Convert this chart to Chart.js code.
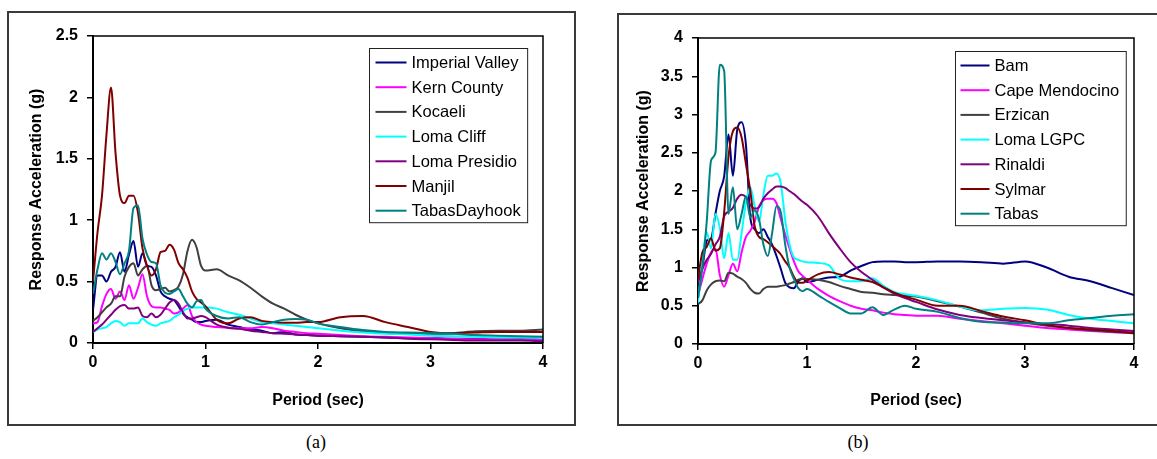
<!DOCTYPE html>
<html lang="en">
<head>
<meta charset="UTF-8">
<title>Response Spectra</title>
<script src="https://cdn.jsdelivr.net/npm/chart.js"></script>
<style>
  body {
    margin: 0;
    width: 1157px;
    height: 459px;
    position: relative;
    overflow: hidden;
    background: #fff;
  }
  .panel {
    position: absolute;
    border: 2px solid #3a3a3a;
    box-sizing: border-box;
  }
  #panelA { left: 7px; top: 11px; width: 569px; height: 415px; }
  #panelB { left: 617px; top: 13px; width: 560px; height: 413px; }
  .panel canvas { position: absolute; left: 0; top: 0; }
  .caption {
    position: absolute;
    top: 431px;
    line-height: 22px;
    font-family: "Liberation Serif", "Times New Roman", serif;
    font-size: 18px;
    transform: translateX(-50%);
  }
</style>
</head>
<body>
  <div class="panel" id="panelA"><canvas id="chartA" width="565" height="411"></canvas></div>
  <div class="panel" id="panelB"><canvas id="chartB" width="538" height="409"></canvas></div>
  <div class="caption" style="left:316px">(a)</div>
  <div class="caption" style="left:858px">(b)</div>

<script>
// periods (sec) shared by every spectrum
const periods = [0, 0.04, 0.08, 0.12, 0.16, 0.2, 0.24, 0.28, 0.32, 0.36, 0.4, 0.44, 0.48, 0.52, 0.56,
  0.6, 0.64, 0.68, 0.72, 0.76, 0.8, 0.84, 0.88, 0.92, 0.96, 1.0,
  1.1, 1.2, 1.3, 1.4, 1.5, 1.6, 1.7, 1.8, 1.9, 2.0,
  2.2, 2.4, 2.6, 2.8, 3.0, 3.2, 3.4, 3.6, 3.8, 4.0];

// (a) spectral acceleration, g
const imperialValley = [0.27, 0.55, 0.55, 0.5, 0.58, 0.62, 0.74, 0.58, 0.72, 0.83, 0.62, 0.73, 0.63, 0.62, 0.55,
  0.42, 0.38, 0.36, 0.35, 0.3, 0.24, 0.21, 0.19, 0.17, 0.17, 0.18,
  0.19, 0.15, 0.13, 0.11, 0.1, 0.08, 0.09, 0.07, 0.065, 0.06,
  0.055, 0.05, 0.045, 0.04, 0.04, 0.035, 0.035, 0.03, 0.03, 0.03];
const kernCounty = [0.16, 0.17, 0.3, 0.4, 0.44, 0.36, 0.42, 0.35, 0.47, 0.36, 0.45, 0.56, 0.38, 0.3, 0.29,
  0.29, 0.28, 0.27, 0.24, 0.25, 0.28, 0.31, 0.22, 0.17, 0.15, 0.14,
  0.13, 0.125, 0.12, 0.12, 0.13, 0.12, 0.1, 0.09, 0.08, 0.075,
  0.065, 0.055, 0.05, 0.045, 0.04, 0.035, 0.03, 0.03, 0.025, 0.025];
const kocaeli = [0.18, 0.21, 0.25, 0.29, 0.32, 0.38, 0.38, 0.54, 0.62, 0.65, 0.55, 0.6, 0.63, 0.47, 0.43,
  0.44, 0.45, 0.42, 0.43, 0.46, 0.56, 0.75, 0.84, 0.78, 0.63, 0.59,
  0.6, 0.55, 0.51, 0.45, 0.38, 0.32, 0.28, 0.23, 0.19, 0.16,
  0.12, 0.095, 0.085, 0.08, 0.075, 0.08, 0.095, 0.1, 0.1, 0.11];
const lomaCliff = [0.09, 0.11, 0.12, 0.13, 0.16, 0.18, 0.17, 0.14, 0.16, 0.16, 0.16, 0.2, 0.17, 0.15, 0.14,
  0.16, 0.17, 0.18, 0.21, 0.23, 0.26, 0.28, 0.29, 0.29, 0.29, 0.29,
  0.28, 0.25, 0.23, 0.2, 0.17, 0.16, 0.15, 0.14, 0.13, 0.12,
  0.1, 0.085, 0.075, 0.07, 0.06, 0.055, 0.05, 0.045, 0.045, 0.04];
const lomaPresidio = [0.09, 0.12, 0.15, 0.19, 0.23, 0.27, 0.3, 0.31, 0.28, 0.28, 0.29, 0.22, 0.21, 0.24, 0.21,
  0.23, 0.28, 0.33, 0.35, 0.32, 0.25, 0.2, 0.2, 0.21, 0.22, 0.21,
  0.15, 0.125, 0.115, 0.1, 0.09, 0.08, 0.075, 0.07, 0.065, 0.06,
  0.055, 0.05, 0.045, 0.035, 0.03, 0.025, 0.02, 0.02, 0.02, 0.015];
const manjil = [0.5, 0.9, 1.2, 1.7, 2.08, 1.55, 1.2, 1.14, 1.2, 1.2, 1.06, 0.77, 0.63, 0.55, 0.6,
  0.74, 0.75, 0.8, 0.76, 0.65, 0.6, 0.53, 0.42, 0.36, 0.33, 0.3,
  0.19, 0.16, 0.2, 0.21, 0.18, 0.17, 0.165, 0.165, 0.17, 0.17,
  0.21, 0.22, 0.17, 0.13, 0.09, 0.08, 0.085, 0.09, 0.09, 0.09];
const tabasDayhook = [0.4, 0.6, 0.73, 0.68, 0.73, 0.66, 0.56, 0.65, 0.75, 1.1, 1.12, 0.85, 0.72, 0.66, 0.65,
  0.47, 0.41, 0.4, 0.42, 0.44, 0.38, 0.32, 0.29, 0.34, 0.35, 0.28,
  0.22, 0.2, 0.21, 0.17, 0.15, 0.17, 0.19, 0.195, 0.19, 0.16,
  0.13, 0.105, 0.09, 0.085, 0.08, 0.075, 0.065, 0.06, 0.055, 0.05];

// (b) spectral acceleration, g
const bam = [0.82, 1.0, 1.35, 1.38, 1.7, 2.0, 2.19, 2.74, 2.2, 2.8, 2.9, 2.6, 1.65, 1.5, 1.45,
  1.5, 1.4, 1.3, 1.15, 0.98, 0.8, 0.74, 0.73, 0.82, 0.86, 0.81,
  0.84, 0.87, 0.88, 0.96, 1.02, 1.07, 1.08, 1.08, 1.07, 1.07,
  1.08, 1.08, 1.07, 1.05, 1.08, 1.0, 0.88, 0.82, 0.73, 0.64];
const capeMendocino = [0.63, 0.85, 1.05, 1.2, 1.25, 0.9, 0.75, 0.9, 1.05, 0.95, 1.2, 1.4, 1.48, 1.6, 1.8,
  1.88, 1.9, 1.9, 1.84, 1.63, 1.43, 1.25, 1.08, 0.95, 0.89, 0.84,
  0.72, 0.63, 0.56, 0.5, 0.46, 0.44, 0.41, 0.39, 0.38, 0.37,
  0.37, 0.33, 0.3, 0.27, 0.24, 0.21, 0.19, 0.17, 0.155, 0.14];
const erzican = [0.52, 0.57, 0.7, 0.78, 0.82, 0.83, 0.82, 0.93, 0.92, 0.88, 0.85, 0.8, 0.72, 0.67, 0.66,
  0.72, 0.75, 0.75, 0.75, 0.76, 0.77, 0.79, 0.81, 0.84, 0.85, 0.85,
  0.84, 0.81, 0.76, 0.72, 0.68, 0.67, 0.65, 0.64, 0.63, 0.62,
  0.56, 0.49, 0.41, 0.33, 0.28, 0.24, 0.21, 0.18, 0.16, 0.15];
const lomaLGPC = [0.54, 1.1, 1.46, 1.25, 1.7, 1.52, 1.12, 1.45, 1.1, 1.1, 1.45, 1.85, 2.05, 1.8, 1.6,
  1.95, 2.2, 2.2, 2.23, 2.1, 1.62, 1.3, 1.13, 1.1, 1.08, 1.07,
  1.06, 1.03, 0.85, 0.82, 0.82, 0.86, 0.76, 0.68, 0.65, 0.63,
  0.57, 0.49, 0.44, 0.46, 0.47, 0.45, 0.38, 0.33, 0.3, 0.27];
const rinaldi = [0.8, 0.98, 1.1, 1.18, 1.3, 1.4, 1.67, 1.73, 1.78, 1.9, 1.95, 1.92, 1.82, 1.77, 1.79,
  1.9, 1.97, 2.02, 2.06, 2.06, 2.04, 2.0, 1.96, 1.91, 1.86, 1.82,
  1.67, 1.45, 1.25, 1.07, 0.94, 0.84, 0.74, 0.66, 0.6, 0.55,
  0.45, 0.38, 0.34, 0.31, 0.28, 0.26, 0.24, 0.21, 0.19, 0.17];
const sylmar = [0.85, 1.2, 1.27, 1.38, 1.22, 1.25, 1.72, 2.45, 2.78, 2.83, 2.7, 2.35, 2.0, 1.54, 1.4,
  1.37, 1.33, 1.28, 1.23, 1.17, 1.08, 1.0, 0.88, 0.8, 0.8, 0.83,
  0.91, 0.94, 0.91, 0.87, 0.84, 0.81, 0.74, 0.67, 0.62, 0.58,
  0.5, 0.5, 0.43, 0.36, 0.31, 0.25, 0.21, 0.19, 0.17, 0.14];
const tabas = [0.6, 1.0, 1.6, 2.4, 2.5, 3.65, 3.57, 1.7, 2.05, 1.5, 1.7, 1.93, 1.65, 1.75, 1.63,
  1.3, 1.15, 1.45, 1.8, 1.72, 1.3, 1.0, 0.85, 0.73, 0.69, 0.72,
  0.64, 0.55, 0.47, 0.4, 0.4, 0.48, 0.38, 0.45, 0.5, 0.46,
  0.42, 0.34, 0.29, 0.28, 0.27, 0.27, 0.31, 0.34, 0.37, 0.39];

const namesA = ['Imperial Valley', 'Kern County', 'Kocaeli', 'Loma Cliff', 'Loma Presidio', 'Manjil', 'TabasDayhook'];
const seriesA = [imperialValley, kernCounty, kocaeli, lomaCliff, lomaPresidio, manjil, tabasDayhook];
const namesB = ['Bam', 'Cape Mendocino', 'Erzican', 'Loma LGPC', 'Rinaldi', 'Sylmar', 'Tabas'];
const seriesB = [bam, capeMendocino, erzican, lomaLGPC, rinaldi, sylmar, tabas];

const palette = ['#000080', '#ff00ff', '#404040', '#00ffff', '#800080', '#800000', '#008080'];

const FONT = '"Liberation Sans", Arial, sans-serif';
Chart.defaults.font.family = FONT;
Chart.defaults.color = '#000';

function makeDatasets(names, series) {
  return names.map((name, i) => ({
    label: name,
    data: periods.map((t, k) => ({ x: t, y: series[i][k] })),
    borderColor: palette[i],
    borderWidth: 2,
    pointRadius: 0,
    cubicInterpolationMode: 'monotone',
    // later series sit on top
    order: names.length - i
  }));
}

// black frame on the top and right of the plot area
const frame = {
  id: 'frame',
  afterDatasetsDraw(chart) {
    const { ctx, chartArea: a } = chart;
    ctx.save();
    ctx.strokeStyle = '#000';
    ctx.lineWidth = 1.5;
    ctx.beginPath();
    ctx.moveTo(a.left, a.top);
    ctx.lineTo(a.right, a.top);
    ctx.lineTo(a.right, a.bottom);
    ctx.stroke();
    ctx.restore();
  }
};

// boxed legend inside the plot, top right
function boxLegend(rightGap, topGap, padL, lineLen) {
  return {
    id: 'boxLegend',
    afterDraw(chart) {
      const { ctx, chartArea: a } = chart;
      const sets = chart.data.datasets;
      const rowH = 24.7;
      ctx.save();
      ctx.font = '16.5px ' + FONT;
      const textW = Math.max(...sets.map(d => ctx.measureText(d.label).width));
      const w = padL + lineLen + 5 + textW + 7;
      const h = 14 + rowH * (sets.length - 1) + 12;
      const x = Math.round(a.right - rightGap - w) + 0.5;
      const y = Math.round(a.top + topGap) + 0.5;
      ctx.fillStyle = '#fff';
      ctx.fillRect(x, y, w, h);
      ctx.strokeStyle = '#222';
      ctx.lineWidth = 1;
      ctx.strokeRect(x, y, w, h);
      ctx.textBaseline = 'middle';
      ctx.fillStyle = '#000';
      sets.forEach((d, i) => {
        const cy = y + 14 + i * rowH;
        ctx.strokeStyle = d.borderColor;
        ctx.lineWidth = 2;
        ctx.beginPath();
        ctx.moveTo(x + padL, cy);
        ctx.lineTo(x + padL + lineLen, cy);
        ctx.stroke();
        ctx.fillText(d.label, x + padL + lineLen + 5, cy + 1);
      });
      ctx.restore();
    }
  };
}

function makeChart(id, names, series, cfg) {
  const tickFont = { size: 16, weight: 'bold' };
  return new Chart(document.getElementById(id), {
    type: 'line',
    data: { datasets: makeDatasets(names, series) },
    options: {
      responsive: false,
      animation: false,
      events: [],
      layout: { padding: { top: cfg.padTop, right: cfg.padRight, left: 0, bottom: 0 } },
      plugins: { legend: { display: false }, tooltip: { enabled: false } },
      scales: {
        x: {
          type: 'linear',
          min: 0,
          max: 4,
          ticks: { stepSize: 1, font: tickFont, padding: 4, maxRotation: 0 },
          grid: { drawOnChartArea: false, tickLength: 6, color: '#000', lineWidth: 1.5 },
          border: { color: '#000', width: 2 },
          title: {
            display: true,
            text: 'Period (sec)',
            font: { size: 16, weight: 'bold' },
            padding: { top: 14, bottom: 14 }
          },
          afterFit(scale) { scale.height = cfg.xHeight; }
        },
        y: {
          min: 0,
          max: cfg.yMax,
          ticks: { stepSize: 0.5, font: tickFont, padding: 9, callback: v => String(v) },
          grid: { drawOnChartArea: false, tickLength: 6, color: '#000', lineWidth: 1.5 },
          border: { color: '#000', width: 2 },
          title: {
            display: true,
            text: 'Response Acceleration (g)',
            font: { size: 16, weight: 'bold' },
            padding: { top: cfg.yTitlePad, bottom: cfg.yTitlePad }
          },
          afterFit(scale) { scale.width = cfg.yWidth; }
        }
      }
    },
    plugins: [frame, boxLegend(cfg.legendRight, cfg.legendTop, cfg.legendPadL, cfg.legendLine)]
  });
}

makeChart('chartA', namesA, seriesA, {
  yMax: 2.5, yWidth: 84, xHeight: 81, padTop: 23, padRight: 31, yTitlePad: 18,
  legendRight: 16, legendTop: 12, legendPadL: 6, legendLine: 31
});
makeChart('chartB', namesB, seriesB, {
  yMax: 4, yWidth: 79, xHeight: 80, padTop: 23, padRight: 23, yTitlePad: 15,
  legendRight: 8, legendTop: 13, legendPadL: 5, legendLine: 29
});
</script>
</body>
</html>
